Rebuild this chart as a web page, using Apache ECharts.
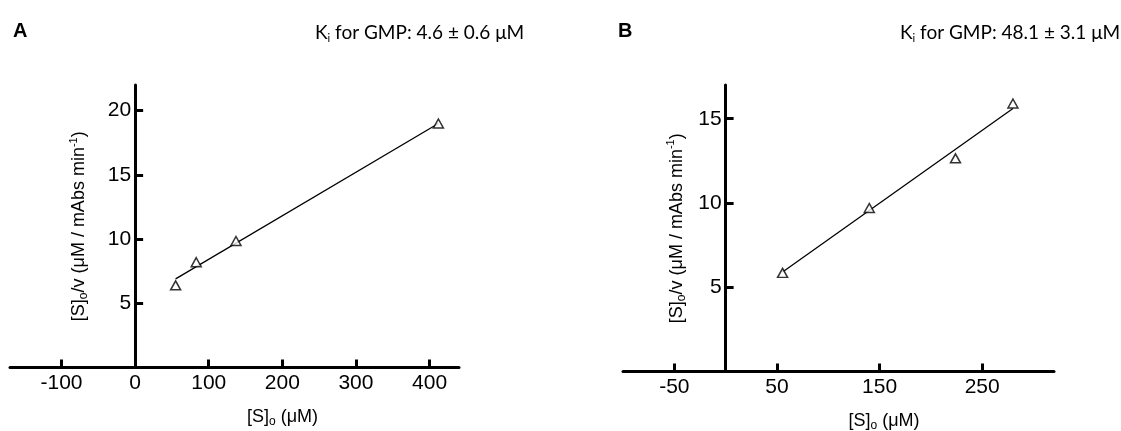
<!DOCTYPE html>
<html>
<head>
<meta charset="utf-8">
<script src="https://cdn.jsdelivr.net/npm/echarts@6/dist/echarts.min.js"></script>
<style>
html,body{margin:0;padding:0;background:#fff;}
#chart{width:1121px;height:431px;}
</style>
</head>
<body>
<div id="chart"></div>
<script>
// Panel A data
var xA = [55, 83, 137, 412];
var yA = [6.4, 8.2, 9.85, 19.0];
var fitAx = [55, 412];
var fitAy = [6.9, 19.0];
var xTicksA = [-100, 0, 100, 200, 300, 400];
var yTicksA = [5, 10, 15, 20];
// Panel B data
var xB = [55.5, 140, 224, 280];
var yB = [5.85, 9.7, 12.65, 15.9];
var fitBx = [55.5, 280];
var fitBy = [5.9, 15.6];
var xTicksB = [-50, 50, 150, 250];
var yTicksB = [5, 10, 15];
// Texts
var kiA = ['4.6', '0.6'];
var kiB = ['48.1', '3.1'];

function pairs(xs, ys) { return xs.map(function (x, i) { return [x, ys[i]]; }); }

var tickFont = 'Liberation Sans, Arial, sans-serif';
var titleFont = 'Lato, Open Sans, sans-serif';

var gridA = {left: 10, top: 85, width: 449, height: 282.5};
var gridB = {left: 623, top: 85, width: 431, height: 286.5};
var rangeA = [-170, 440];
var rangeB = [-100, 320];

// y-axis sits at x = 0: shift it from the grid's left edge by the scale distance
function zeroOffset(grid, range) {
  return -grid.width * (0 - range[0]) / (range[1] - range[0]);
}

function xAxisOf(gi, range, ticks, padLeft) {
  return {
    type: 'value', gridIndex: gi, min: range[0], max: range[1],
    splitLine: {show: false},
    axisLine: {show: true, onZero: false, lineStyle: {color: '#000', width: 3}},
    axisTick: {show: true, inside: true, length: 8, lineStyle: {color: '#000', width: 3}, customValues: ticks},
    axisLabel: {show: true, color: '#000', fontFamily: tickFont, fontSize: 21, margin: 5, customValues: ticks},
    name: '[S]{sub|o} (μM)',
    nameLocation: 'middle', nameGap: 40, nameMoveOverlap: false,
    nameTextStyle: {
      color: '#000', fontFamily: tickFont, fontSize: 18, lineHeight: 20, padding: [0, 0, 0, padLeft],
      rich: {sub: {fontFamily: tickFont, fontSize: 12, color: '#000', verticalAlign: 'bottom', lineHeight: 14}}
    }
  };
}
function yAxisOf(gi, max, ticks, gap, offset) {
  return {
    type: 'value', gridIndex: gi, min: 0, max: max, position: 'left', offset: offset,
    splitLine: {show: false},
    axisLine: {show: true, onZero: false, lineStyle: {color: '#000', width: 3}},
    axisTick: {show: true, inside: true, length: 8, lineStyle: {color: '#000', width: 3}, customValues: ticks},
    axisLabel: {show: true, color: '#000', fontFamily: tickFont, fontSize: 21, margin: 4, customValues: ticks},
    name: '[S]{sub|o}/v (μM / mAbs min{sup|-1})',
    nameLocation: 'middle', nameGap: gap, nameRotate: 90, nameMoveOverlap: false,
    nameTextStyle: {
      color: '#000', fontFamily: tickFont, fontSize: 18, lineHeight: 22,
      rich: {
        sub: {fontFamily: tickFont, fontSize: 12, color: '#000', verticalAlign: 'bottom', lineHeight: 14},
        sup: {fontFamily: tickFont, fontSize: 11, color: '#000', verticalAlign: 'top', lineHeight: 12}
      }
    }
  };
}
function kiTitle(left, vals) {
  return {
    text: 'K{sub|i} for GMP: ' + vals[0] + ' ± ' + vals[1] + ' μM',
    left: left, top: 22, padding: 0,
    textStyle: {
      color: '#000', fontFamily: titleFont, fontSize: 19, fontWeight: 'normal', lineHeight: 22,
      rich: {sub: {fontFamily: titleFont, fontSize: 11, color: '#000', verticalAlign: 'bottom', lineHeight: 13}}
    }
  };
}
function letterTitle(left, t) {
  return {
    text: t, left: left, top: 20, padding: 0,
    textStyle: {color: '#000', fontFamily: tickFont, fontSize: 20, fontWeight: 'bold', lineHeight: 22}
  };
}
function scatterOf(i, xs, ys) {
  return {
    type: 'scatter', xAxisIndex: i, yAxisIndex: i, data: pairs(xs, ys),
    symbol: 'triangle', symbolSize: [10, 9], z: 5,
    itemStyle: {color: '#fff', borderColor: '#000', borderWidth: 1.5}
  };
}
function fitOf(i, xs, ys) {
  return {
    type: 'line', xAxisIndex: i, yAxisIndex: i, data: pairs(xs, ys),
    showSymbol: false, symbol: 'none', z: 3,
    lineStyle: {color: '#000', width: 1.3}
  };
}

var chart = echarts.init(document.getElementById('chart'), null, {renderer: 'canvas'});
chart.setOption({
  animation: false,
  backgroundColor: '#fff',
  title: [letterTitle(13, 'A'), kiTitle(315, kiA), letterTitle(618, 'B'), kiTitle(900, kiB)],
  grid: [
    Object.assign({outerBoundsMode: 'none', containLabel: false}, gridA),
    Object.assign({outerBoundsMode: 'none', containLabel: false}, gridB)
  ],
  xAxis: [xAxisOf(0, rangeA, xTicksA, 96), xAxisOf(1, rangeB, xTicksB, 91)],
  yAxis: [yAxisOf(0, 22, yTicksA, 45, zeroOffset(gridA, rangeA)), yAxisOf(1, 17, yTicksB, 38, zeroOffset(gridB, rangeB))],
  series: [fitOf(0, fitAx, fitAy), scatterOf(0, xA, yA), fitOf(1, fitBx, fitBy), scatterOf(1, xB, yB)]
});
</script>
</body>
</html>
